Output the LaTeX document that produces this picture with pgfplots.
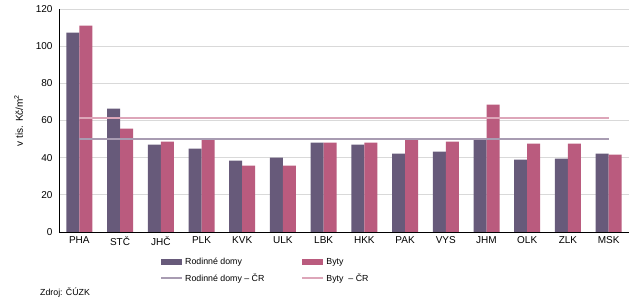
\documentclass[border=0pt]{standalone}
\usepackage{fontspec}
\setmainfont{Liberation Sans}
\usepackage{pgfplots}
\pgfplotsset{compat=1.18}

\definecolor{rdcol}{HTML}{675A7A}
\definecolor{bytcol}{HTML}{BA5B7E}
\definecolor{rdline}{HTML}{A89CB2}
\definecolor{bytline}{HTML}{DDA6B9}
\definecolor{gridc}{HTML}{D9D9D9}

\begin{document}
\begin{tikzpicture}
\begin{axis}[
    scale only axis,
    width=570pt, height=223pt,
    xmin=-0.5, xmax=13.5,
    ymin=0, ymax=120,
    ytick={0,20,...,120},
    xtick={0,...,13},
    xticklabels={PHA,STČ,JHČ,PLK,KVK,ULK,LBK,HKK,PAK,VYS,JHM,OLK,ZLK,MSK},
    axis x line*=bottom, axis y line*=left,
    axis line style={black, line width=0.8pt, -},
    major tick length=0pt,
    ymajorgrids, grid style={gridc, line width=0.8pt},
    font=\fontsize{10}{12}\selectfont,
    tick label style={font=\fontsize{10}{12}\selectfont},
    /pgf/number format/assume math mode=true,
    xticklabel style={yshift=-1pt},
    yticklabel style={xshift=-3pt},
    ylabel={v tis. Kč/m\textsuperscript{2}},
    ylabel style={font=\fontsize{10}{12}\selectfont, yshift=6pt},
    legend columns=2,
    legend style={draw=none, fill=none, at={(0.172,-0.1)}, anchor=north west,
        font=\fontsize{8.8}{10}\selectfont,
        row sep=3pt,
        /tikz/every even column/.append style={column sep=35pt}},
    legend cell align=left,
]
\addplot[ybar, bar width=13pt, bar shift=-6.5pt, fill=rdcol, draw=none,
    legend image code/.code={\fill[rdcol] (0pt,-3pt) rectangle (21pt,3pt);}]
  coordinates {(0,107.3) (1,66.4) (2,47.0) (3,44.8) (4,38.4) (5,40.0) (6,48.1)
               (7,47.0) (8,42.2) (9,43.2) (10,49.7) (11,38.9) (12,39.5) (13,42.2)};
\addlegendentry{Rodinné domy}
\addplot[ybar, bar width=13pt, bar shift=6.5pt, fill=bytcol, draw=none,
    legend image code/.code={\fill[bytcol] (0pt,-3pt) rectangle (21pt,3pt);}]
  coordinates {(0,111.0) (1,55.6) (2,48.6) (3,49.9) (4,35.7) (5,35.7) (6,48.1)
               (7,48.1) (8,49.9) (9,48.6) (10,68.5) (11,47.5) (12,47.5) (13,41.6)};
\addlegendentry{Byty}
\addplot[rdline, line width=2pt, mark=none,
    legend image code/.code={\draw[rdline, line width=2pt] (0pt,0pt) -- (21pt,0pt);}]
  coordinates {(0,50.3) (13,50.3)};
\addlegendentry{Rodinné domy – ČR}
\addplot[bytline, line width=2pt, mark=none,
    legend image code/.code={\draw[bytline, line width=2pt] (0pt,0pt) -- (21pt,0pt);}]
  coordinates {(0,61.6) (13,61.6)};
\addlegendentry{Byty \ – ČR}
\end{axis}
\node[anchor=base west, inner sep=0pt, font=\fontsize{8.8}{10}\selectfont] at (-19pt,-64pt) {Zdroj: ČÚZK};
\path[use as bounding box] (-59pt,-70pt) rectangle (584pt,232pt);
\end{tikzpicture}
\end{document}
